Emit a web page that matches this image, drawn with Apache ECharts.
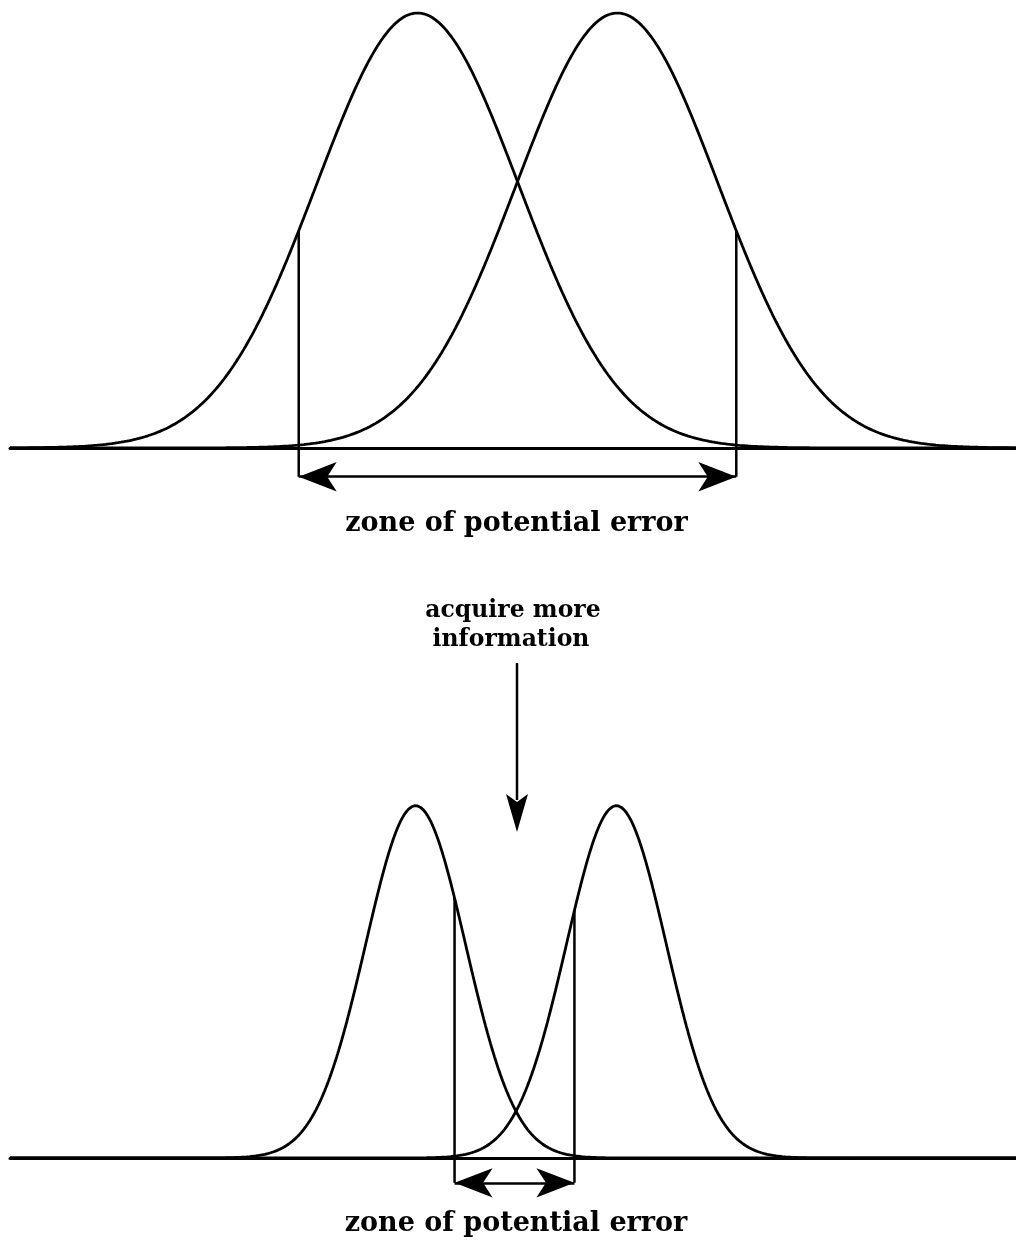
<!DOCTYPE html>
<html>
<head>
<meta charset="utf-8">
<title>zone of potential error</title>
<script src="https://cdn.jsdelivr.net/npm/echarts@6/dist/echarts.min.js"></script>
<style>
  html, body { margin: 0; padding: 0; background: #ffffff; }
  #chart { width: 1016px; height: 1245px; }
</style>
</head>
<body>
<div id="chart"></div>
<script>
// Two competing hypotheses drawn as bell curves, before and after more information.
const topMeans = [0, 2];        // centres of the two wide curves
const topSpread = 1.01;         // spread of the wide curves
const topPeak = 1.0;            // height of the wide curves
const topZone = [-1.19, 3.19];  // bounds of the wide error zone

const lowMeans = [-0.02, 1.99]; // centres of the two narrow curves
const lowSpread = 0.5;          // spread of the narrow curves
const lowPeak = 0.81;           // height of the narrow curves
const lowZone = [0.37, 1.57];   // bounds of the narrow error zone

const arrowLevel = [-0.066, -0.057]; // height of the double arrow under each baseline
const zoneLabel = 'zone of potential error';
const stepLabel = ['acquire more', 'information'];

const xMin = -4.08, xMax = 5.99;

function bell(x, mu, s, peak) {
  return peak * Math.exp(-((x - mu) * (x - mu)) / (2 * s * s));
}
function curve(mu, s, peak) {
  const pts = [];
  for (let i = 0; i <= 1007; i++) {
    const x = xMin + i * (xMax - xMin) / 1007;
    pts.push([x, bell(x, mu, s, peak)]);
  }
  return pts;
}

const ink = '#000000';
const serif = '"DejaVu Serif", "Liberation Serif", serif';

function curveSeries(idx, mu, s, peak) {
  return {
    type: 'line', xAxisIndex: idx, yAxisIndex: idx, data: curve(mu, s, peak),
    showSymbol: false, silent: true, animation: false,
    lineStyle: { color: ink, width: 2.8 }, z: 3
  };
}
function edgeSeries(idx, x, top, y0) {
  return {
    type: 'line', xAxisIndex: idx, yAxisIndex: idx, data: [[x, y0], [x, top]],
    showSymbol: false, silent: true, animation: false,
    lineStyle: { color: ink, width: 2.5 }, z: 3
  };
}
function arrowSeries(idx, x1, x2, y) {
  return {
    type: 'line', xAxisIndex: idx, yAxisIndex: idx, data: [], silent: true, animation: false,
    markLine: {
      silent: true, animation: false,
      symbol: ['arrow', 'arrow'], symbolSize: [22, 38],
      label: { show: false },
      lineStyle: { color: ink, width: 2.5, type: 'solid' },
      data: [[{ coord: [x1, y] }, { coord: [x2, y] }]]
    }
  };
}

const axisX = idx => ({
  type: 'value', gridIndex: idx, min: xMin, max: xMax,
  axisLine: { show: true, onZero: true, lineStyle: { color: ink, width: 3 } },
  axisTick: { show: false }, axisLabel: { show: false }, splitLine: { show: false }
});
const axisY = idx => ({
  type: 'value', gridIndex: idx, min: -0.1, max: 1,
  axisLine: { show: false }, axisTick: { show: false },
  axisLabel: { show: false }, splitLine: { show: false }
});

function label(text, x, y, size) {
  return {
    type: 'text', x: x, y: y,
    style: { text: text, font: 'bold ' + size + 'px ' + serif, fill: ink, align: 'center', verticalAlign: 'middle' }
  };
}

const chart = echarts.init(document.getElementById('chart'), null, { renderer: 'canvas' });
chart.setOption({
  backgroundColor: '#ffffff',
  animation: false,
  grid: [
    { left: 10, top: 13, width: 1007, height: 478.5 },
    { left: 10, top: 723, width: 1007, height: 478.5 }
  ],
  xAxis: [axisX(0), axisX(1)],
  yAxis: [axisY(0), axisY(1)],
  series: [
    curveSeries(0, topMeans[0], topSpread, topPeak),
    curveSeries(0, topMeans[1], topSpread, topPeak),
    edgeSeries(0, topZone[0], bell(topZone[0], topMeans[0], topSpread, topPeak), arrowLevel[0]),
    edgeSeries(0, topZone[1], bell(topZone[1], topMeans[1], topSpread, topPeak), arrowLevel[0]),
    arrowSeries(0, topZone[0], topZone[1], arrowLevel[0]),

    curveSeries(1, lowMeans[0], lowSpread, lowPeak),
    curveSeries(1, lowMeans[1], lowSpread, lowPeak),
    edgeSeries(1, lowZone[0], bell(lowZone[0], lowMeans[0], lowSpread, lowPeak), arrowLevel[1]),
    edgeSeries(1, lowZone[1], bell(lowZone[1], lowMeans[1], lowSpread, lowPeak), arrowLevel[1]),
    arrowSeries(1, lowZone[0], lowZone[1], arrowLevel[1])
  ],
  graphic: [
    label(zoneLabel, 516.5, 524, 27),
    label(stepLabel[0], 513, 611, 23.5),
    label(stepLabel[1], 511, 640, 23.5),
    label(zoneLabel, 516, 1224, 27),
    // downward arrow between the two panels
    { type: 'line', shape: { x1: 517, y1: 663, x2: 517, y2: 800 }, style: { stroke: ink, lineWidth: 2.5 } },
    { type: 'polygon', shape: { points: [[517, 832], [506, 794], [517, 802], [528, 794]] }, style: { fill: ink } }
  ]
});
</script>
</body>
</html>
